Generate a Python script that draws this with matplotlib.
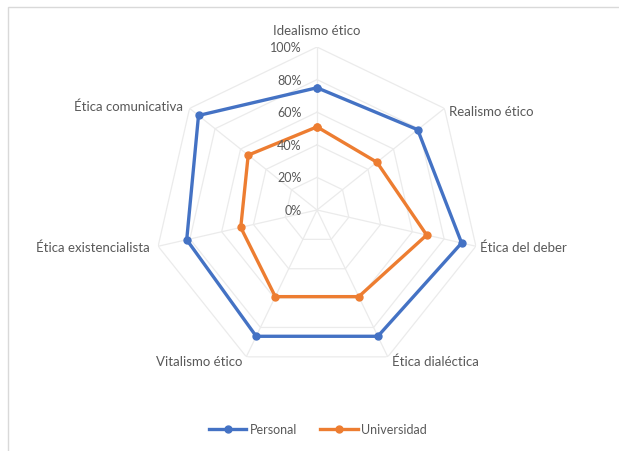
import numpy as np
import matplotlib.pyplot as plt
from matplotlib.patches import Rectangle

# Data
categories = ["Idealismo ético", "Realismo ético", "Ética del deber", "Ética dialéctica",
              "Vitalismo ético", "Ética existencialista", "Ética comunicativa"]
personal = [0.75, 0.79, 0.91, 0.86, 0.86, 0.82, 0.93]
universidad = [0.51, 0.47, 0.69, 0.59, 0.59, 0.48, 0.54]
ticks = [0.0, 0.2, 0.4, 0.6, 0.8, 1.0]
tick_labels = ["0%", "20%", "40%", "60%", "80%", "100%"]

plt.rcParams["font.family"] = ["Lato", "DejaVu Sans"]
text_color = "#595959"
grid_color = "#ebebeb"

n = len(categories)
theta = np.linspace(0, 2 * np.pi, n, endpoint=False)
theta_closed = np.append(theta, theta[0])

fig = plt.figure(figsize=(6.19, 4.52), dpi=100)
ax = fig.add_axes([0.2488, 0.1726, 0.5267, 0.7212], projection="polar")
ax.set_theta_offset(np.pi / 2)
ax.set_theta_direction(-1)
ax.set_ylim(0, 1)
ax.grid(False)
ax.spines["polar"].set_visible(False)
ax.set_xticks([])
ax.set_yticks([])
ax.patch.set_alpha(0)

# Polygon gridlines and spokes
for t in ticks[1:]:
    ax.plot(theta_closed, [t] * (n + 1), color=grid_color, lw=0.9, zorder=1)
for a in theta:
    ax.plot([a, a], [0, 1], color=grid_color, lw=0.9, zorder=1)

# Series
ax.plot(theta_closed, personal + personal[:1], color="#4472C4", lw=2.4,
        marker="o", ms=5, label="Personal", zorder=3)
ax.plot(theta_closed, universidad + universidad[:1], color="#ED7D31", lw=2.4,
        marker="o", ms=5, label="Universidad", zorder=3)

# Radial tick labels
for t, lab in zip(ticks, tick_labels):
    ax.annotate(lab, xy=(0, t), xytext=(-11, 0), textcoords="offset points",
                ha="right", va="center", fontsize=9, color=text_color)

# Category labels
align = [("center", "bottom", (0, 8)), ("left", "center", (3, -2)),
         ("left", "center", (3, 0)), ("left", "center", (3, -3)),
         ("right", "center", (-3, -3)), ("right", "center", (-6, 0)),
         ("right", "center", (-5, 2))]
for a, lab, (ha, va, off) in zip(theta, categories, align):
    ax.annotate(lab, xy=(a, 1.0), xytext=off, textcoords="offset points",
                ha=ha, va=va, fontsize=9.5, color=text_color)

# Chart border (partially outside the crop)
fig.add_artist(Rectangle((8 / 619, -0.1), 1.2, 1 - 8 / 452 + 0.1,
                         transform=fig.transFigure, fill=False,
                         edgecolor="#d9d9d9", lw=1))

leg = fig.legend(loc="center", bbox_to_anchor=(318 / 619, 1 - 430 / 452), ncol=2,
                 frameon=False, fontsize=9, handlelength=3, columnspacing=1.8,
                 handletextpad=0.3)
for txt in leg.get_texts():
    txt.set_color(text_color)

fig.savefig("out.png", dpi=100)
